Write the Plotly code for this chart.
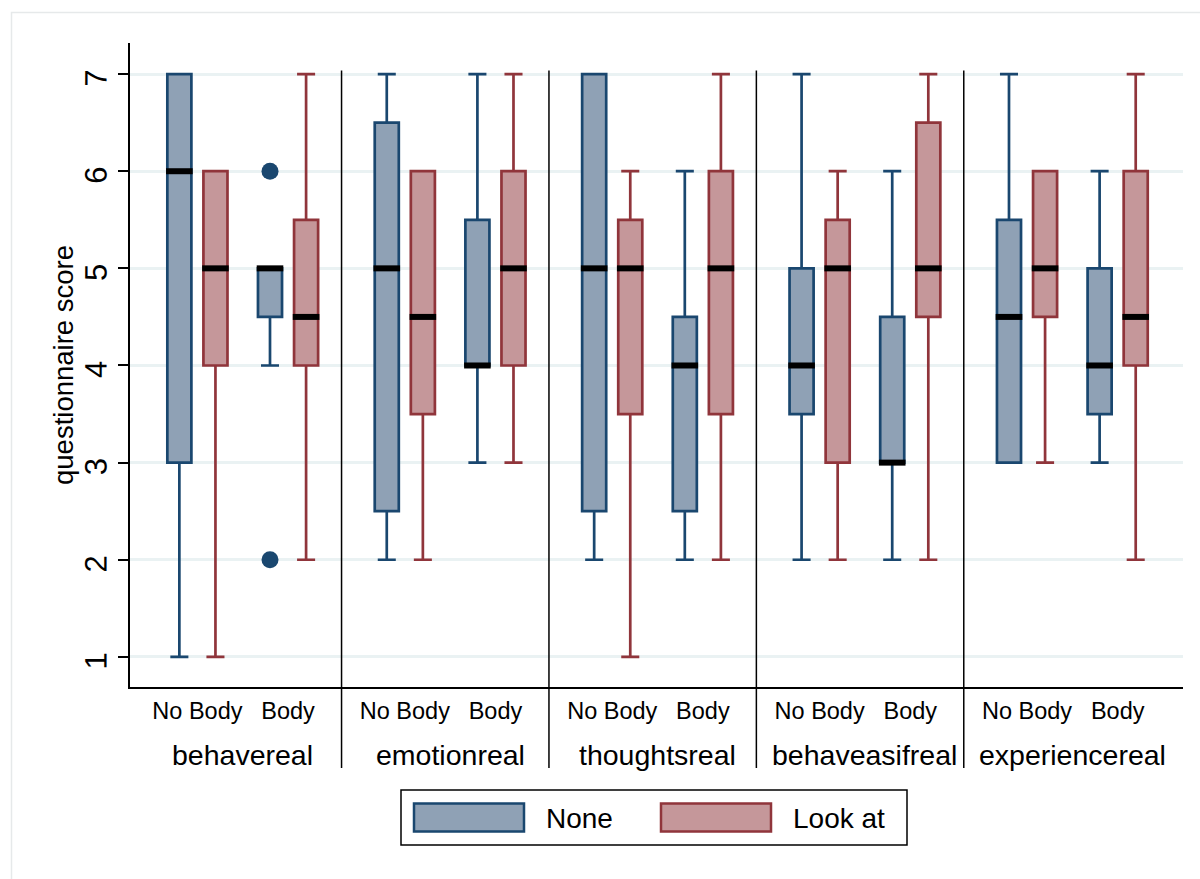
import plotly.graph_objects as go

# ---------------- data ----------------
panels = ["behavereal", "emotionreal", "thoughtsreal", "behaveasifreal", "experiencereal"]
subgroups = ["No Body", "Body"]
series_names = ["None", "Look at"]

# order: (panel0 NoBody, panel0 Body, panel1 NoBody, panel1 Body, ...)
none_q1 = [3, 4.5, 2.5, 4, 2.5, 2.5, 3.5, 3, 3, 3.5]
none_med = [6, 5, 5, 4, 5, 4, 4, 3, 4.5, 4]
none_q3 = [7, 5, 6.5, 5.5, 7, 4.5, 5, 4.5, 5.5, 5]
none_lo = [1, 4, 2, 3, 2, 2, 2, 2, 3, 3]
none_hi = [7, 5, 7, 7, 7, 6, 7, 6, 7, 6]

look_q1 = [4, 4, 3.5, 4, 3.5, 3.5, 3, 4.5, 4.5, 4]
look_med = [5, 4.5, 4.5, 5, 5, 5, 5, 5, 5, 4.5]
look_q3 = [6, 5.5, 6, 6, 5.5, 6, 5.5, 6.5, 6, 6]
look_lo = [1, 2, 2, 3, 1, 2, 2, 2, 3, 2]
look_hi = [6, 7, 6, 7, 6, 7, 6, 7, 6, 7]

# outside values (None series, behavereal / Body)
outlier_box = [1, 1]
outlier_y = [6, 2]

ytick_vals = [1, 2, 3, 4, 5, 6, 7]

# ---------------- layout helpers ----------------
W, H = 1200, 879
L, R, T, B = 130, 1183, 43, 687
FONT = "Liberation Sans, Arial, Helvetica, sans-serif"
NAVY, NAVY_FILL = "#1a476f", "#8fa1b5"
MAROON, MAROON_FILL = "#90353b", "#c5979a"

X0, X1 = 0.0, 5.077
PAIR0, PAIR_STEP, OFF, BOXW = 0.325, 0.437, 0.087, 0.116


def px_x(px):
    return (px - L) / (R - L)


def px_y(py):
    return (B - py) / (B - T)


def pair_center(i):
    p, s = divmod(i, 2)
    return p + PAIR0 + s * PAIR_STEP


n_boxes = len(panels) * len(subgroups)
none_x = [pair_center(i) - OFF for i in range(n_boxes)]
look_x = [pair_center(i) + OFF for i in range(n_boxes)]

fig = go.Figure()

for name, xs, q1, med, q3, lo, hi, lc, fc in [
    ("None", none_x, none_q1, none_med, none_q3, none_lo, none_hi, NAVY, NAVY_FILL),
    ("Look at", look_x, look_q1, look_med, look_q3, look_lo, look_hi, MAROON, MAROON_FILL),
]:
    fig.add_trace(go.Box(
        name=name, x=xs, q1=q1, median=med, q3=q3,
        lowerfence=lo, upperfence=hi,
        width=BOXW, whiskerwidth=0.75,
        fillcolor=fc, line=dict(color=lc, width=2.7),
        boxpoints=False, showlegend=False, hoverinfo="skip",
    ))

# black median bars (line-ew length = 1.4 * size)
fig.add_trace(go.Scatter(
    x=none_x + look_x, y=none_med + look_med, mode="markers",
    marker=dict(symbol="line-ew", size=19, line=dict(color="black", width=6)),
    showlegend=False, hoverinfo="skip",
))

# outside values
fig.add_trace(go.Scatter(
    x=[none_x[i] for i in outlier_box], y=outlier_y, mode="markers",
    marker=dict(symbol="circle", size=17, color=NAVY),
    showlegend=False, hoverinfo="skip",
))

shapes = []
annotations = []

# outer light frame (cropped on right/bottom)
shapes.append(dict(type="rect", xref="paper", yref="paper",
                   x0=px_x(11.5), x1=px_x(1215), y0=px_y(12.5), y1=px_y(895),
                   line=dict(color="#e6e9ea", width=1.5), fillcolor="rgba(0,0,0,0)", layer="below"))

# panel separators
for p in range(len(panels) - 1):
    shapes.append(dict(type="line", xref="x", yref="paper",
                       x0=p + 1.02, x1=p + 1.02, y0=px_y(768), y1=px_y(70.5),
                       line=dict(color="black", width=1.5)))

# panel names
for p, name in enumerate(panels):
    annotations.append(dict(x=p + PAIR0 + PAIR_STEP / 2, y=px_y(755), xref="x", yref="paper",
                            text=name, showarrow=False, xanchor="center", yanchor="middle",
                            font=dict(family=FONT, size=28.5, color="black")))

# y title
annotations.append(dict(x=px_x(63), y=0.5, xref="paper", yref="paper",
                        text="questionnaire score", textangle=-90, showarrow=False,
                        xanchor="center", yanchor="middle",
                        font=dict(family=FONT, size=27.5, color="black")))

# legend (drawn)
shapes.append(dict(type="rect", xref="paper", yref="paper",
                   x0=px_x(401), x1=px_x(907), y0=px_y(845), y1=px_y(790),
                   line=dict(color="black", width=1.5), fillcolor="white"))
for (xa, xb, tx), name, lc, fc in zip([(413, 525, 544), (660, 772, 791)], series_names,
                                      [NAVY, MAROON], [NAVY_FILL, MAROON_FILL]):
    shapes.append(dict(type="rect", xref="paper", yref="paper",
                       x0=px_x(xa + 1), x1=px_x(xb - 1), y0=px_y(831.5), y1=px_y(803.5),
                       line=dict(color=lc, width=2.5), fillcolor=fc))
    annotations.append(dict(x=px_x(tx), y=px_y(818), xref="paper", yref="paper",
                            text=name, showarrow=False, xanchor="left", yanchor="middle",
                            font=dict(family=FONT, size=28, color="black")))

tick_x = [pair_center(i) for i in range(n_boxes)]
tick_t = [subgroups[i % 2] for i in range(n_boxes)]

fig.update_layout(
    width=W, height=H,
    margin=dict(l=L, r=W - R, t=T, b=H - B, pad=0),
    paper_bgcolor="white", plot_bgcolor="white",
    boxmode="overlay",
    showlegend=False,
    shapes=shapes, annotations=annotations,
    font=dict(family=FONT, color="black"),
    xaxis=dict(range=[X0, X1], tickmode="array", tickvals=tick_x, ticktext=tick_t,
               showgrid=False, zeroline=False, showline=True, linecolor="black", linewidth=1.5,
               ticks="", tickfont=dict(family=FONT, size=23.5, color="black"),
               ticklabelstandoff=2),
    yaxis=dict(range=[0.69, 7.32], tickmode="array", tickvals=ytick_vals,
               ticktext=[str(v) for v in ytick_vals],
               showgrid=True, gridcolor="#eaf2f3", gridwidth=2.5, zeroline=False,
               showline=True, linecolor="black", linewidth=1.5,
               ticks="outside", ticklen=10, tickwidth=1.5, tickcolor="black",
               tickangle=-89.9, tickfont=dict(family=FONT, size=31, color="black"),
               ticklabelstandoff=21),
)

fig.write_html("out.html")
